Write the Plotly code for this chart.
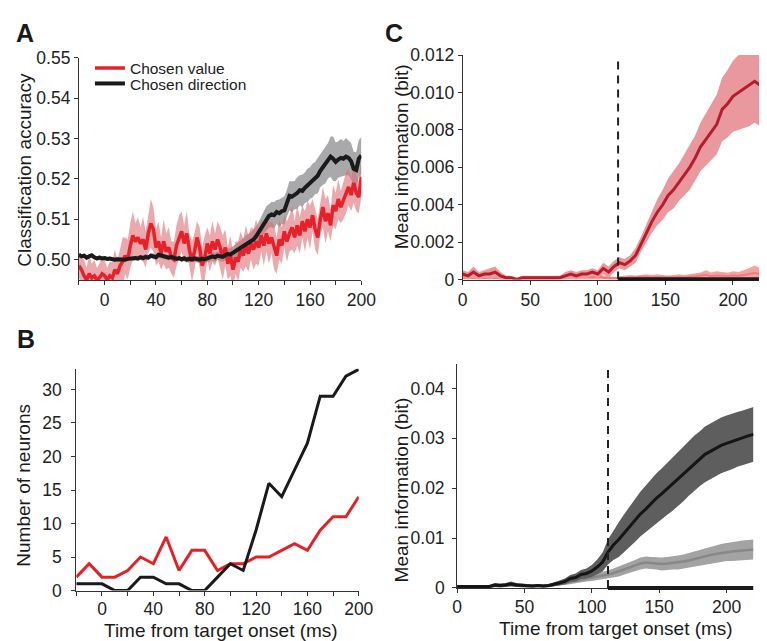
import numpy as np
import plotly.graph_objects as go

# ---------------- Panel A data (2 ms steps, -20..200 ms) ----------------
a_time = list(range(-20, 201, 2))
a_value_mean = [
    0.4985,0.4975,0.4960,0.4950,0.4965,0.4955,0.4960,0.4950,0.4955,0.4965,
    0.4960,0.4950,0.4960,0.4955,0.4975,0.4965,0.4985,0.4995,0.5010,0.5000,
    0.5035,0.5060,0.5045,0.5055,0.5040,0.5050,0.5025,0.5065,0.5090,0.5075,
    0.5030,0.5045,0.5015,0.5045,0.5020,0.5030,0.5005,0.5000,0.5035,0.5055,
    0.5070,0.5040,0.5065,0.5025,0.4995,0.5020,0.5055,0.5030,0.4985,0.5005,
    0.5040,0.5015,0.5045,0.5025,0.5050,0.5030,0.5005,0.5030,0.4990,0.5010,
    0.4975,0.5005,0.4995,0.5025,0.5010,0.5035,0.5015,0.5040,0.5025,0.5045,
    0.5030,0.5060,0.5035,0.5065,0.5040,0.5055,0.5030,0.5010,0.5050,0.5035,
    0.5070,0.5045,0.5065,0.5080,0.5055,0.5085,0.5060,0.5095,0.5070,0.5100,
    0.5080,0.5110,0.5075,0.5055,0.5100,0.5130,0.5095,0.5115,0.5085,0.5135,
    0.5120,0.5150,0.5130,0.5145,0.5165,0.5180,0.5160,0.5190,0.5165,0.5155,
    0.5205]
a_value_hw = [
    0.0030,0.0035,0.0040,0.0030,0.0045,0.0035,0.0040,0.0030,0.0035,0.0045,
    0.0040,0.0030,0.0035,0.0040,0.0050,0.0035,0.0040,0.0060,0.0045,0.0050,
    0.0055,0.0060,0.0045,0.0050,0.0040,0.0055,0.0045,0.0050,0.0060,0.0055,
    0.0045,0.0050,0.0040,0.0055,0.0045,0.0050,0.0040,0.0045,0.0050,0.0055,
    0.0050,0.0045,0.0055,0.0040,0.0050,0.0045,0.0040,0.0050,0.0045,0.0055,
    0.0040,0.0045,0.0050,0.0040,0.0045,0.0050,0.0055,0.0045,0.0040,0.0050,
    0.0045,0.0040,0.0050,0.0045,0.0040,0.0050,0.0045,0.0040,0.0050,0.0055,
    0.0045,0.0040,0.0050,0.0045,0.0050,0.0040,0.0055,0.0045,0.0050,0.0045,
    0.0040,0.0050,0.0045,0.0055,0.0040,0.0050,0.0045,0.0040,0.0050,0.0045,
    0.0055,0.0040,0.0050,0.0045,0.0040,0.0050,0.0055,0.0045,0.0040,0.0050,
    0.0045,0.0050,0.0040,0.0045,0.0050,0.0045,0.0040,0.0050,0.0045,0.0040,
    0.0050]
a_dir_mean = [
    0.5012,0.5008,0.5010,0.5005,0.5008,0.5011,0.5006,0.5003,0.5005,0.5003,
    0.5004,0.5002,0.5003,0.5001,0.5000,0.5001,0.5000,0.5001,0.5000,0.5002,
    0.5003,0.5002,0.5004,0.5003,0.5006,0.5004,0.5007,0.5005,0.5010,0.5008,
    0.5006,0.5012,0.5010,0.5008,0.5006,0.5005,0.5007,0.5004,0.5002,0.5004,
    0.5001,0.5003,0.5000,0.5002,0.5001,0.5003,0.5001,0.5000,0.5002,0.5001,
    0.5003,0.5005,0.5008,0.5006,0.5010,0.5008,0.5007,0.5011,0.5014,0.5013,
    0.5017,0.5020,0.5024,0.5029,0.5033,0.5038,0.5042,0.5045,0.5050,0.5058,
    0.5068,0.5080,0.5092,0.5102,0.5108,0.5112,0.5110,0.5118,0.5115,0.5120,
    0.5122,0.5140,0.5158,0.5156,0.5160,0.5165,0.5172,0.5170,0.5178,0.5184,
    0.5190,0.5196,0.5202,0.5208,0.5220,0.5228,0.5235,0.5245,0.5255,0.5250,
    0.5242,0.5248,0.5252,0.5250,0.5255,0.5252,0.5244,0.5225,0.5222,0.5250,
    0.5258]
a_dir_hw = [
    0.0005,0.0004,0.0005,0.0006,0.0004,0.0005,0.0004,0.0005,0.0006,0.0004,
    0.0005,0.0004,0.0005,0.0004,0.0005,0.0006,0.0004,0.0005,0.0004,0.0005,
    0.0005,0.0006,0.0005,0.0007,0.0005,0.0006,0.0007,0.0005,0.0006,0.0007,
    0.0006,0.0007,0.0006,0.0007,0.0006,0.0007,0.0006,0.0007,0.0006,0.0007,
    0.0006,0.0007,0.0007,0.0008,0.0007,0.0008,0.0008,0.0009,0.0008,0.0009,
    0.0009,0.0010,0.0010,0.0011,0.0011,0.0012,0.0013,0.0012,0.0014,0.0015,
    0.0016,0.0017,0.0018,0.0019,0.0020,0.0022,0.0021,0.0023,0.0025,0.0024,
    0.0026,0.0028,0.0027,0.0030,0.0029,0.0031,0.0033,0.0030,0.0034,0.0032,
    0.0035,0.0033,0.0036,0.0038,0.0035,0.0039,0.0037,0.0040,0.0038,0.0041,
    0.0039,0.0042,0.0040,0.0044,0.0041,0.0043,0.0046,0.0044,0.0050,0.0055,
    0.0048,0.0045,0.0047,0.0044,0.0046,0.0043,0.0045,0.0042,0.0044,0.0046,
    0.0045]

# ---------------- Panel B data (10 ms bins) ----------------
b_time = [-20,-10,0,10,20,30,40,50,60,70,80,90,100,110,120,130,140,150,160,170,180,190,200]
b_value = [2,4,2,2,3,5,4,8,3,6,6,3,4,4,5,5,6,7,6,9,11,11,14]
b_dir = [1,1,1,0,0,2,2,1,1,0,0,2,4,3,9,16,14,18,22,29,29,32,33]

# ---------------- Panel C data (4 ms steps, 0..220 ms) ----------------
c_time = list(range(0, 221, 4))
c1_mean = [
    0.0003,0.0002,0.0004,0.0002,0.0003,0.0003,0.0004,0.0002,
    0.0001,0.0001,0.0000,0.0001,0.0001,0.0001,0.0001,0.0001,
    0.0001,0.0001,0.0001,0.0002,0.0003,0.0002,0.0003,0.0003,
    0.0004,0.0003,0.0006,0.0004,0.0007,0.0009,0.0008,0.0010,
    0.0013,0.0019,0.0025,0.0031,0.0036,0.0040,0.0045,0.0048,
    0.0052,0.0056,0.0060,0.0065,0.0071,0.0075,0.0079,0.0083,
    0.0091,0.0094,0.0098,0.0100,0.0102,0.0104,0.0106,0.0104]
c1_hw = [
    0.0002,0.0002,0.0003,0.0002,0.0002,0.0003,0.0003,0.0002,
    0.0001,0.0001,0.0001,0.0001,0.0001,0.0001,0.0001,0.0001,
    0.0001,0.0001,0.0001,0.0002,0.0002,0.0002,0.0002,0.0002,
    0.0002,0.0002,0.0003,0.0003,0.0003,0.0003,0.0003,0.0003,
    0.0004,0.0004,0.0005,0.0006,0.0007,0.0008,0.0009,0.0010,
    0.0010,0.0011,0.0012,0.0012,0.0013,0.0014,0.0015,0.0016,
    0.0017,0.0018,0.0019,0.0020,0.0021,0.0022,0.0022,0.0022]
c2_mean = [
    0.00010,0.00008,0.00010,0.00006,0.00008,0.00010,0.00008,0.00006,
    0.00005,0.00005,0.00004,0.00005,0.00006,0.00005,0.00004,0.00005,
    0.00005,0.00006,0.00008,0.00010,0.00015,0.00012,0.00018,0.00015,
    0.00012,0.00018,0.00010,0.00008,0.00006,0.00008,0.00010,0.00012,
    0.00010,0.00012,0.00015,0.00012,0.00014,0.00012,0.00010,0.00012,
    0.00014,0.00012,0.00015,0.00018,0.00020,0.00025,0.00018,0.00022,
    0.00020,0.00018,0.00022,0.00020,0.00025,0.00030,0.00035,0.00028]
c2_hw = [
    0.00010,0.00010,0.00012,0.00010,0.00010,0.00012,0.00010,0.00010,
    0.00006,0.00006,0.00006,0.00006,0.00006,0.00006,0.00006,0.00006,
    0.00006,0.00008,0.00010,0.00015,0.00020,0.00018,0.00020,0.00018,
    0.00015,0.00020,0.00012,0.00010,0.00008,0.00010,0.00012,0.00012,
    0.00012,0.00012,0.00014,0.00012,0.00014,0.00012,0.00012,0.00012,
    0.00014,0.00012,0.00014,0.00016,0.00018,0.00025,0.00020,0.00022,
    0.00020,0.00018,0.00022,0.00020,0.00025,0.00030,0.00040,0.00035]
c3_mean = [
    0.0003,0.0003,0.0002,0.0002,0.0002,0.0002,0.0003,0.0006,
    0.0005,0.0006,0.0008,0.0006,0.0005,0.0005,0.0004,0.0005,
    0.0004,0.0005,0.0007,0.0010,0.0013,0.0019,0.0021,0.0027,
    0.0029,0.0034,0.0042,0.0052,0.0072,0.0086,0.0097,0.0110,
    0.0123,0.0135,0.0148,0.0158,0.0170,0.0180,0.0189,0.0199,
    0.0208,0.0218,0.0228,0.0240,0.0250,0.0259,0.0268,0.0274,
    0.0280,0.0286,0.0290,0.0294,0.0298,0.0301,0.0305,0.0308]
c3_hw = [
    0.0003,0.0003,0.0003,0.0003,0.0003,0.0003,0.0003,0.0004,
    0.0004,0.0004,0.0005,0.0004,0.0004,0.0004,0.0003,0.0003,
    0.0003,0.0003,0.0004,0.0005,0.0006,0.0007,0.0008,0.0009,
    0.0010,0.0012,0.0015,0.0019,0.0025,0.0030,0.0035,0.0038,
    0.0041,0.0043,0.0045,0.0047,0.0049,0.0050,0.0051,0.0052,
    0.0053,0.0054,0.0054,0.0055,0.0055,0.0055,0.0056,0.0056,
    0.0056,0.0056,0.0056,0.0056,0.0055,0.0055,0.0055,0.0055]
c4_mean = [
    0.0002,0.0002,0.0002,0.0002,0.0002,0.0002,0.0003,0.0004,
    0.0004,0.0005,0.0007,0.0005,0.0004,0.0004,0.0004,0.0004,
    0.0004,0.0004,0.0006,0.0008,0.0010,0.0013,0.0015,0.0017,
    0.0019,0.0021,0.0023,0.0025,0.0027,0.0030,0.0033,0.0037,
    0.0041,0.0045,0.0049,0.0051,0.0050,0.0049,0.0048,0.0049,
    0.0050,0.0051,0.0053,0.0055,0.0058,0.0060,0.0063,0.0066,
    0.0068,0.0070,0.0072,0.0073,0.0074,0.0075,0.0076,0.0077]
c4_hw = [
    0.0002,0.0002,0.0002,0.0002,0.0002,0.0002,0.0002,0.0002,
    0.0002,0.0002,0.0002,0.0002,0.0002,0.0002,0.0002,0.0002,
    0.0002,0.0002,0.0003,0.0003,0.0004,0.0005,0.0005,0.0006,
    0.0006,0.0007,0.0007,0.0008,0.0008,0.0009,0.0010,0.0010,
    0.0011,0.0011,0.0012,0.0012,0.0012,0.0012,0.0013,0.0013,
    0.0013,0.0014,0.0014,0.0015,0.0015,0.0016,0.0016,0.0017,
    0.0017,0.0018,0.0018,0.0019,0.0019,0.0020,0.0020,0.0020]

c_top_onset = 115
c_bot_onset = 112

FONT = "Liberation Sans, Arial, sans-serif"
W, H = 767, 641


def band(x, m, hw, color, xa, ya):
    x = list(x)
    m = np.array(m)
    hw = np.array(hw)
    up = m + hw
    lo = m - hw
    return go.Scatter(x=x + x[::-1], y=list(up) + list(lo[::-1]), fill="toself",
                      fillcolor=color, line=dict(width=0), mode="lines",
                      hoverinfo="skip", showlegend=False, xaxis=xa, yaxis=ya)


def line(x, y, color, width, xa, ya, name=None, legend=None):
    if legend:
        kw = dict(showlegend=True, legend=legend)
    else:
        kw = dict(showlegend=False)
    return go.Scatter(x=list(x), y=list(y), mode="lines", line=dict(color=color, width=width),
                      name=name, xaxis=xa, yaxis=ya, **kw)


fig = go.Figure()
# Panel A
fig.add_trace(band(a_time, a_dir_mean, a_dir_hw, "#a9a9ab", "x", "y"))
fig.add_trace(band(a_time, a_value_mean, a_value_hw, "rgba(222,110,118,0.6)", "x", "y"))
fig.add_trace(line(a_time, a_value_mean, "#e8202a", 3.5, "x", "y", "Chosen value", "legend"))
fig.add_trace(line(a_time, a_dir_mean, "#1a1a1a", 4, "x", "y", "Chosen direction", "legend2"))
# Panel B
fig.add_trace(line(b_time, b_value, "#e32228", 3, "x2", "y2"))
fig.add_trace(line(b_time, b_dir, "#1a1a1a", 3, "x2", "y2"))
# Panel C top
fig.add_trace(band(c_time, c2_mean, c2_hw, "#f4a3a3", "x3", "y3"))
fig.add_trace(line(c_time, c2_mean, "#f07a7a", 2, "x3", "y3"))
fig.add_trace(band(c_time, c1_mean, c1_hw, "#e9999d", "x3", "y3"))
fig.add_trace(line(c_time, c1_mean, "#b71c2c", 3, "x3", "y3"))
# Panel C bottom
fig.add_trace(band(c_time, c4_mean, c4_hw, "#a3a3a3", "x4", "y4"))
fig.add_trace(line(c_time, c4_mean, "#888888", 2.5, "x4", "y4"))
fig.add_trace(band(c_time, c3_mean, c3_hw, "#5e5e5e", "x4", "y4"))
fig.add_trace(line(c_time, c3_mean, "#151515", 3, "x4", "y4"))


def px_x(p):
    return p / W


def px_y(p):
    return 1 - p / H

axis_common = dict(showline=True, linecolor="#333333", linewidth=1, ticks="outside",
                   ticklen=4, tickcolor="#333333", showgrid=False, zeroline=False,
                   tickfont=dict(family=FONT, size=17.5, color="#222222"), fixedrange=True)

ab_ticks = list(range(-20, 201, 20))
ab_text = [str(v) if v % 40 == 0 else "" for v in ab_ticks]

# domains (pixel boxes)
A_dom = ([px_x(67.7), px_x(357.7)], [px_y(270.7), px_y(41)])
B_dom = ([px_x(65), px_x(355)], [px_y(591), px_y(362)])
C1_dom = ([px_x(461.7), px_x(767)], [px_y(270), px_y(38.3)])
C2_dom = ([px_x(456), px_x(760.3)], [px_y(588.3), px_y(356.7)])

c1_ticks = [0, 0.002, 0.004, 0.006, 0.008, 0.010, 0.012]
c1_text = ["0", "0.002", "0.004", "0.006", "0.008", "0.010", "0.012"]
c2_ticks = [0, 0.01, 0.02, 0.03, 0.04]
c2_text = ["0", "0.01", "0.02", "0.03", "0.04"]
a_yticks = [0.50, 0.51, 0.52, 0.53, 0.54, 0.55]
a_ytext = ["0.50", "0.51", "0.52", "0.53", "0.54", "0.55"]
c_xticks = [0, 50, 100, 150, 200]

leg_common = dict(xanchor="left", yanchor="middle", font=dict(family=FONT, size=15.5, color="#222222"),
                  bgcolor="rgba(0,0,0,0)", itemwidth=30)

fig.update_layout(
    width=W, height=H, margin=dict(l=0, r=0, t=0, b=0),
    paper_bgcolor="white", plot_bgcolor="white",
    font=dict(family=FONT, color="#222222"),
    xaxis=dict(axis_common, domain=A_dom[0], range=[-20, 200], tickvals=ab_ticks, ticktext=ab_text, anchor="y"),
    yaxis=dict(axis_common, domain=A_dom[1], range=[0.4949, 0.55], tickvals=a_yticks, ticktext=a_ytext, anchor="x"),
    xaxis2=dict(axis_common, domain=B_dom[0], range=[-20, 200], tickvals=ab_ticks, ticktext=ab_text, anchor="y2",
                ticklabelstandoff=-2),
    yaxis2=dict(axis_common, domain=B_dom[1], range=[0, 33.1], tickvals=[0, 5, 10, 15, 20, 25, 30], anchor="x2",
                ticklabelstandoff=6),
    xaxis3=dict(axis_common, domain=C1_dom[0], range=[0, 220], tickvals=c_xticks, anchor="y3"),
    yaxis3=dict(axis_common, domain=C1_dom[1], range=[0, 0.012], tickvals=c1_ticks, ticktext=c1_text, anchor="x3"),
    xaxis4=dict(axis_common, domain=C2_dom[0], range=[0, 220], tickvals=c_xticks, anchor="y4",
                ticklabelstandoff=-1),
    yaxis4=dict(axis_common, domain=C2_dom[1], range=[0, 0.045], tickvals=c2_ticks, ticktext=c2_text, anchor="x4",
                ticklabelstandoff=4),
    legend=dict(leg_common, x=px_x(79), y=px_y(52)),
    legend2=dict(leg_common, x=px_x(79), y=px_y(68)),
)

# dashed onset lines and significance bars
fig.add_shape(type="line", xref="x3", yref="y3", x0=c_top_onset, x1=c_top_onset, y0=0, y1=0.0119,
              line=dict(color="#222222", width=2, dash="8px,6px"))
fig.add_shape(type="line", xref="x4", yref="y4", x0=c_bot_onset, x1=c_bot_onset, y0=0, y1=0.0437,
              line=dict(color="#222222", width=2, dash="8px,6px"))
fig.add_shape(type="rect", xref="x3", yref="paper", x0=c_top_onset, x1=220,
              y0=C1_dom[1][0] - 1.5 / H, y1=C1_dom[1][0] + 2.5 / H, fillcolor="#1a1a1a", line=dict(width=0))
fig.add_shape(type="rect", xref="x4", yref="paper", x0=c_bot_onset, x1=220,
              y0=C2_dom[1][0] - 2 / H, y1=C2_dom[1][0] + 2 / H, fillcolor="#1a1a1a", line=dict(width=0))

ann = []
def text(s, x, y, size, bold=False, angle=0):
    ann.append(dict(text=("<b>%s</b>" % s) if bold else s, x=px_x(x), y=px_y(y), xref="paper", yref="paper",
                    showarrow=False, textangle=angle, xanchor="center", yanchor="middle",
                    font=dict(family=FONT, size=size, color="#1a1a1a")))

text("A", 12, 15, 25, bold=True)
text("B", 13, 331, 25, bold=True)
text("C", 391, 15, 25, bold=True)
text("Classification accuracy", 11, 157, 19, angle=-90)
text("Number of neurons", 11, 482, 19, angle=-90)
text("Mean information (bit)", 399, 143, 19, angle=-90)
text("Mean information (bit)", 399, 487, 19, angle=-90)
text("Time from target onset (ms)", 214, 632, 19)
text("Time from target onset (ms)", 619, 630, 19)
fig.update_layout(annotations=ann)

fig.write_html("out.html")
